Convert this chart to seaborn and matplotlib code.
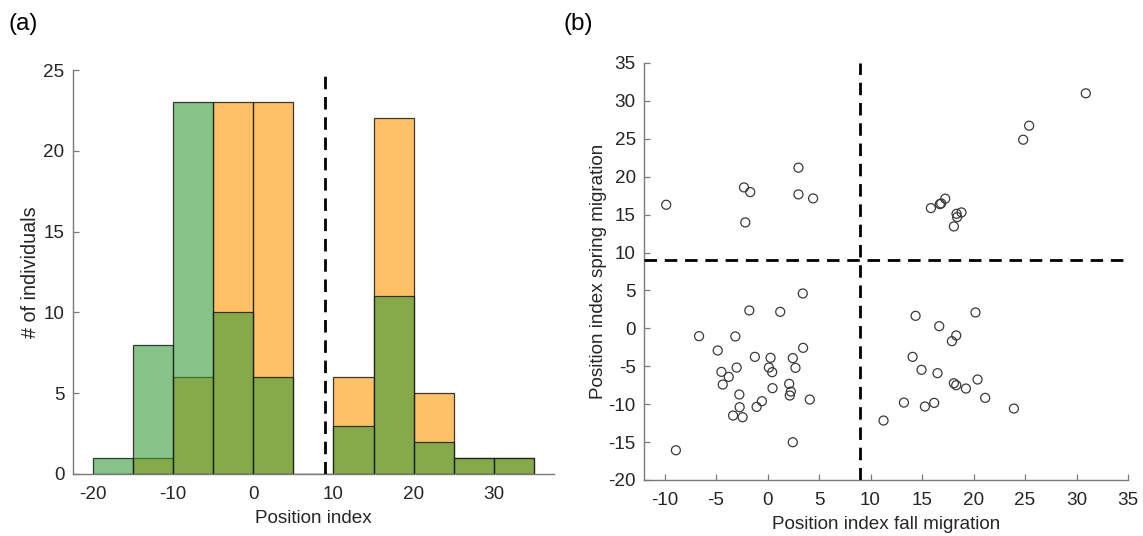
import numpy as np
import pandas as pd
import matplotlib
matplotlib.use("Agg")
import matplotlib.pyplot as plt
import seaborn as sns

# ---------------- data ----------------
bin_edges = [-20, -15, -10, -5, 0, 5, 10, 15, 20, 25, 30, 35]
green_counts = [1, 8, 23, 10, 6, 0, 3, 11, 2, 1, 1]
orange_counts = [0, 1, 6, 23, 23, 0, 6, 22, 5, 1, 1]
hist_xticks = [-20, -10, 0, 10, 20, 30]
hist_yticks = [0, 5, 10, 15, 20, 25]
threshold = 9

fall_x = [-9.84, -2.29, -1.68, -2.16, 3.0, 3.0, 4.42,
          -8.9, -6.65, -3.13, -4.84, -1.77, 1.23, 3.42, 3.45, -4.48, -3.77, -4.35,
          -3.0, -1.23, 0.29, 0.13, 0.45, 2.45, 2.71, 0.48, 2.10, 2.26, 2.16, 4.10,
          -2.74, -2.71, -3.35, -2.42, -1.06, -0.55, 2.45,
          30.9, 25.4, 24.82, 15.86, 16.73, 16.86, 17.25, 18.35, 18.83, 18.41, 18.09,
          14.37, 20.19, 16.67, 18.32, 17.9, 14.08, 14.95, 16.5, 18.09, 18.32, 19.26,
          20.39, 21.13, 13.24, 15.28, 16.18, 23.92, 11.26]
spring_y = [16.3, 18.59, 17.97, 13.97, 21.19, 17.67, 17.14,
            -16.08, -1.03, -1.07, -2.92, 2.36, 2.18, 4.6, -2.57, -5.74, -6.4, -7.41,
            -5.17, -3.76, -3.89, -5.17, -5.78, -3.93, -5.21, -7.89, -7.32, -8.34, -8.86, -9.39,
            -8.73, -10.4, -11.5, -11.72, -10.36, -9.61, -15.02,
            31.0, 26.73, 24.88, 15.86, 16.39, 16.48, 17.1, 15.11, 15.29, 14.67, 13.44,
            1.65, 2.09, 0.29, -0.94, -1.69, -3.76, -5.47, -5.91, -7.24, -7.5, -7.94,
            -6.75, -9.17, -9.79, -10.31, -9.83, -10.58, -12.16]
scatter_xticks = list(range(-10, 40, 5))
scatter_yticks = list(range(-20, 40, 5))

# ---------------- style ----------------
sns.set_theme(style="ticks")
plt.rcParams['font.family'] = ['Liberation Sans', 'DejaVu Sans']
plt.rcParams['axes.unicode_minus'] = False
text_col = '#262626'
spine_col = '#7a7a7a'
fs = 13.6

fig = plt.figure(figsize=(11.43, 5.36), dpi=100)
ax1 = fig.add_axes([0.0636, 0.1157, 0.4211, 0.7537])
ax2 = fig.add_axes([0.5634, 0.1045, 0.4235, 0.7780])

centers = [(bin_edges[i] + bin_edges[i + 1]) / 2 for i in range(len(bin_edges) - 1)]
hist_df = pd.DataFrame({'center': centers, 'green': green_counts, 'orange': orange_counts})

sns.histplot(data=hist_df, x='center', weights='orange', bins=bin_edges, ax=ax1,
             color=(1.0, 0.6, 0.0), alpha=0.6, edgecolor='black', linewidth=0.9)
sns.histplot(data=hist_df, x='center', weights='green', bins=bin_edges, ax=ax1,
             color=(0.21, 0.61, 0.22), alpha=0.6, edgecolor='black', linewidth=0.9)
for p in ax1.patches:
    p.set_edgecolor((0.1, 0.1, 0.1, 0.85))

ax1.plot([threshold, threshold], [0, 25], color='black', lw=2.0, ls=(0, (4.5, 2.8)), zorder=5)
ax1.set_xlim(-22.5, 37.5)
ax1.set_ylim(0, 25)
ax1.set_xticks(hist_xticks)
ax1.set_yticks(hist_yticks)
ax1.set_xlabel('Position index', fontsize=fs, color=text_col, labelpad=5)
ax1.set_ylabel('# of individuals', fontsize=fs + 0.6, color=text_col, labelpad=2)

scat_df = pd.DataFrame({'fall': fall_x, 'spring': spring_y})
sns.scatterplot(data=scat_df, x='fall', y='spring', ax=ax2, marker='o',
                facecolor='none', edgecolor='#3a3a3a', s=42, linewidth=0.9, zorder=3)
ax2.plot([threshold, threshold], [-20, 35], color='black', lw=2.0, ls=(0, (4.5, 2.8)), zorder=4)
ax2.plot([-12, 35], [threshold, threshold], color='black', lw=2.0, ls=(0, (4.5, 2.8)), zorder=4)
ax2.set_xlim(-12, 35)
ax2.set_ylim(-20, 35)
ax2.set_xticks(scatter_xticks)
ax2.set_yticks(scatter_yticks)
ax2.set_xlabel('Position index fall migration', fontsize=fs, color=text_col, labelpad=5)
ax2.set_ylabel('Position index spring migration', fontsize=fs, color=text_col, labelpad=1)

for ax in (ax1, ax2):
    sns.despine(ax=ax)
    for s in ('left', 'bottom'):
        ax.spines[s].set_color(spine_col)
        ax.spines[s].set_linewidth(1.0)
    ax.tick_params(direction='in', length=4, width=0.9, color=spine_col,
                   labelsize=fs, labelcolor=text_col, pad=6)
ax1.tick_params(axis='x', length=0, pad=9)
ax2.tick_params(axis='x', pad=9)

fig.text(0.007, 0.935, '(a)', fontsize=17.5, color='black', ha='left', va='bottom')
fig.text(0.493, 0.935, '(b)', fontsize=17.5, color='black', ha='left', va='bottom')

fig.savefig('out.png', dpi=100)
